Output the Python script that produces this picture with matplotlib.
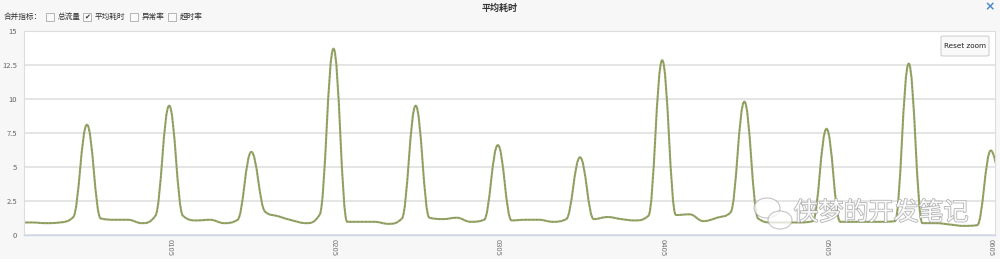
import matplotlib
matplotlib.use('Agg')
import matplotlib.pyplot as plt
from matplotlib.path import Path
from matplotlib.patches import PathPatch, FancyBboxPatch, Rectangle, Ellipse
import matplotlib.patheffects as pe

plt.rcParams['font.family'] = ['Noto Sans CJK SC', 'DejaVu Sans']

# ---- data (x = minutes after 00:00, 5-minute samples) ----
minutes = list(range(10, 371, 5))
avg_time = [0.9, 0.9, 0.85, 0.9, 1.3, 8.1, 1.2, 1.1, 1.1, 0.85,
            1.4, 9.5, 1.4, 1.05, 1.1, 0.85, 1.1, 6.1, 1.7, 1.35,
            1.05, 0.85, 1.5, 13.7, 0.95, 0.95, 0.95, 0.8, 1.2, 9.5,
            1.25, 1.15, 1.25, 0.95, 1.1, 6.6, 1.05, 1.1, 1.1, 0.95,
            1.15, 5.7, 1.15, 1.3, 1.15, 1.05, 1.4, 12.85, 1.45, 1.5,
            1.0, 1.25, 1.65, 9.8, 1.2, 0.9, 0.9, 0.9, 1.0, 7.8,
            0.95, 0.95, 0.95, 0.95, 1.0, 12.6, 0.85, 0.85, 0.75, 0.65,
            0.7, 6.2, 1.2]
ytick_values = [0, 2.5, 5, 7.5, 10, 12.5, 15]
ytick_labels = ['0', '2.5', '5', '7.5', '10', '12.5', '15']
xtick_minutes = [65, 125, 185, 245, 305, 365]
xtick_labels = ['0105', '0205', '0305', '0405', '0505', '0605']
legend_prefix = '合并指标：'
legend_items = ['总流量', '平均耗时', '异常率', '超时率']
legend_checked = [False, True, False, False]
title = '平均耗时'
watermark = '侠梦的开发笔记'


def spline_path(xs, ys, smoothing=1.5):
    n = len(xs)
    denom = smoothing + 1
    lc = [(xs[i], ys[i]) for i in range(n)]
    rc = [(xs[i], ys[i]) for i in range(n)]
    for i in range(1, n - 1):
        px, py = xs[i], ys[i]
        lx, ly = xs[i - 1], ys[i - 1]
        nx, ny = xs[i + 1], ys[i + 1]
        lcx = (smoothing * px + lx) / denom
        lcy = (smoothing * py + ly) / denom
        rcx = (smoothing * px + nx) / denom
        rcy = (smoothing * py + ny) / denom
        if rcx != lcx:
            corr = ((rcy - lcy) * (rcx - px)) / (rcx - lcx) + py - rcy
            lcy += corr
            rcy += corr
        if lcy > ly and lcy > py:
            lcy = max(ly, py); rcy = 2 * py - lcy
        elif lcy < ly and lcy < py:
            lcy = min(ly, py); rcy = 2 * py - lcy
        if rcy > ny and rcy > py:
            rcy = max(ny, py); lcy = 2 * py - rcy
        elif rcy < ny and rcy < py:
            rcy = min(ny, py); lcy = 2 * py - rcy
        lc[i] = (lcx, lcy)
        rc[i] = (rcx, rcy)
    verts = [(xs[0], ys[0])]
    codes = [Path.MOVETO]
    for i in range(1, n):
        verts += [rc[i - 1], lc[i], (xs[i], ys[i])]
        codes += [Path.CURVE4] * 3
    return Path(verts, codes)


W, H = 1000, 259
fig = plt.figure(figsize=(W / 100, H / 100), dpi=100, facecolor='#f7f7f7')


def fx(px):
    return px / W


def fy(py):
    return 1 - py / H


ax = fig.add_axes([fx(24), fy(234.7), fx(995) - fx(24), fy(31) - fy(234.7)])
ax.set_facecolor('white')
ax.set_xlim(12, 366.5)
ax.set_ylim(0, 15)

ax.set_yticks(ytick_values)
ax.set_yticklabels(ytick_labels)
ax.set_xticks(xtick_minutes)
ax.set_xticklabels(xtick_labels, rotation=270)
ax.tick_params(axis='y', length=0, pad=5, labelsize=5.5, labelcolor='#666666')
ax.tick_params(axis='x', length=0, pad=3, labelsize=5.5, labelcolor='#777777')
ax.yaxis.grid(True, color='#e0e0e0', linewidth=1.2)
ax.set_axisbelow(True)
for s in ['left', 'top', 'right']:
    ax.spines[s].set_color('#dddddd')
    ax.spines[s].set_linewidth(0.8)
ax.spines['bottom'].set_color('#ccd6eb')
ax.spines['bottom'].set_linewidth(1.0)

path = spline_path(minutes, avg_time)
ax.add_patch(PathPatch(path, fill=False, edgecolor='#8fac68', linewidth=1.5,
                       capstyle='round', joinstyle='round'))
ax.add_patch(PathPatch(path, fill=False, edgecolor='#a0845e', linewidth=0.7,
                       linestyle=(0, (2, 2))))

# title and close mark
fig.text(fx(500), fy(8), title, ha='center', va='center', fontsize=6.5,
         fontweight='bold', color='#333333')
fig.text(fx(990), fy(7), '×', ha='center', va='center', fontsize=9,
         fontweight='bold', color='#4a86c5', family=['DejaVu Sans'])

# checkbox row
fig.text(fx(4), fy(17), legend_prefix, ha='left', va='center', fontsize=5.5,
         color='#333333')
box_x = [46, 83, 130, 168]
for bx, item, chk in zip(box_x, legend_items, legend_checked):
    fig.add_artist(Rectangle((fx(bx), fy(21)), fx(8), 8 / H,
                             transform=fig.transFigure, facecolor='#fafafa',
                             edgecolor='#aaaaaa', linewidth=0.6))
    if chk:
        fig.text(fx(bx + 4), fy(17), '✔', ha='center', va='center',
                 fontsize=5, color='#333333', family=['DejaVu Sans'])
    fig.text(fx(bx + 12), fy(17), item, ha='left', va='center',
             fontsize=5.5, color='#333333')

# reset zoom button
fig.add_artist(FancyBboxPatch((fx(941), fy(56)), fx(48), 20 / H,
                              boxstyle='round,pad=0,rounding_size=0.003',
                              transform=fig.transFigure, facecolor='#f9f9f9',
                              edgecolor='#cccccc', linewidth=0.7))
fig.text(fx(965), fy(46), 'Reset zoom', ha='center', va='center',
         fontsize=5.2, color='#222222', family=['DejaVu Sans'])

# watermark
stroke = [pe.withStroke(linewidth=1.1, foreground='#a8a8a8')]
fig.text(fx(881), fy(213), watermark, ha='center', va='center', fontsize=18,
         color='white', alpha=0.9, path_effects=stroke)
fig.add_artist(Ellipse((fx(767), fy(208)), fx(26), 20 / H,
                       transform=fig.transFigure, facecolor='white',
                       edgecolor='#b0b0b0', linewidth=0.8, alpha=0.75))
fig.add_artist(Ellipse((fx(780), fy(220)), fx(24), 18 / H,
                       transform=fig.transFigure, facecolor='white',
                       edgecolor='#b0b0b0', linewidth=0.8, alpha=0.75))

fig.savefig('out.png', dpi=100, facecolor=fig.get_facecolor())
